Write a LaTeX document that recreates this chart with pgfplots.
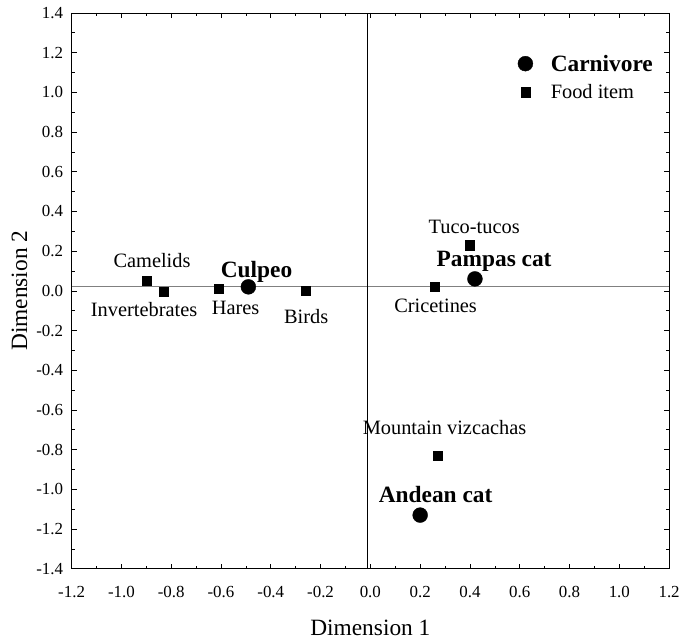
\documentclass[border=0pt]{standalone}
\usepackage{pgfplots}
\pgfplotsset{compat=1.18}
\usepackage{pgfplotstable}
\usepackage{fontspec}
\setmainfont{Liberation Serif}
\pgfplotstableread{
x y
-0.49 0.02
0.42 0.06
0.20 -1.13
}\carnivores
\pgfplotstableread{
x y
-0.90 0.05
-0.83 -0.005
-0.61 0.01
-0.26 0.00
0.40 0.23
0.26 0.02
0.27 -0.83
}\fooditems
\newcommand{\lbl}{\fontsize{20.5}{22}\selectfont}
\newcommand{\blbl}{\fontsize{23.5}{25}\selectfont\bfseries}
\begin{document}
\begin{tikzpicture}
\begin{axis}[
  width=601pt, height=559pt, scale only axis,
  xmin=-1.2, xmax=1.2, ymin=-1.4, ymax=1.4,
  xtick={-1.2,-1.0,...,1.21}, ytick={-1.4,-1.2,...,1.41},
  minor tick num=1,
  tick align=inside,
  major tick length=5pt, minor tick length=3pt,
  axis line style={line width=0.8pt},
  tick style={black, line width=0.6pt},
  /pgf/number format/assume math mode=true,
  /pgf/number format/.cd, fixed, fixed zerofill, precision=1,
  /pgfplots/.cd,
  ticklabel style={font=\fontsize{17}{18}\selectfont},
  xticklabel style={yshift=-14pt},
  yticklabel style={xshift=-5pt},
  xlabel={Dimension 1}, ylabel={Dimension 2},
  every axis x label/.style={at={(axis description cs:0.5,-0.107)}, anchor=center, font=\fontsize{23.5}{25}\selectfont},
  every axis y label/.style={at={(axis description cs:-0.087,0.5)}, rotate=90, anchor=center, font=\fontsize{23.5}{25}\selectfont},
  legend style={draw=none, fill=none, at={(axis cs:0.58,1.21)}, anchor=north west,
    font=\fontsize{20.5}{22}\selectfont, row sep=8pt, column sep=16pt},
  legend cell align=left,
]
\addplot[gray, line width=0.7pt, forget plot] coordinates {(-1.2,0.025) (1.2,0.025)};
\addplot[black, line width=0.8pt, forget plot] coordinates {(-0.012,-1.4) (-0.012,1.4)};
\addplot[only marks, mark=*, mark size=7.5pt, black] table[x=x,y=y] {\carnivores};
\addlegendentry{\fontsize{23.5}{25}\selectfont\bfseries Carnivore}
\addplot[only marks, mark=square*, mark size=4.6pt, black] table[x=x,y=y] {\fooditems};
\addlegendentry{Food item}
\node[font=\lbl] at (axis cs:-0.877,0.153) {Camelids};
\node[font=\blbl] at (axis cs:-0.457,0.095) {Culpeo};
\node[font=\lbl] at (axis cs:-0.909,-0.093) {Invertebrates};
\node[font=\lbl] at (axis cs:-0.541,-0.088) {Hares};
\node[font=\lbl] at (axis cs:-0.258,-0.128) {Birds};
\node[font=\lbl] at (axis cs:0.417,0.323) {Tuco-tucos};
\node[font=\blbl] at (axis cs:0.497,0.148) {Pampas cat};
\node[font=\lbl] at (axis cs:0.262,-0.078) {Cricetines};
\node[font=\lbl] at (axis cs:0.298,-0.689) {Mountain vizcachas};
\node[font=\blbl] at (axis cs:0.262,-1.025) {Andean cat};
\end{axis}
\path (current axis.south west) ++(-72pt,-72pt);
\path (current axis.north east) ++(10pt,13pt);
\end{tikzpicture}
\end{document}
